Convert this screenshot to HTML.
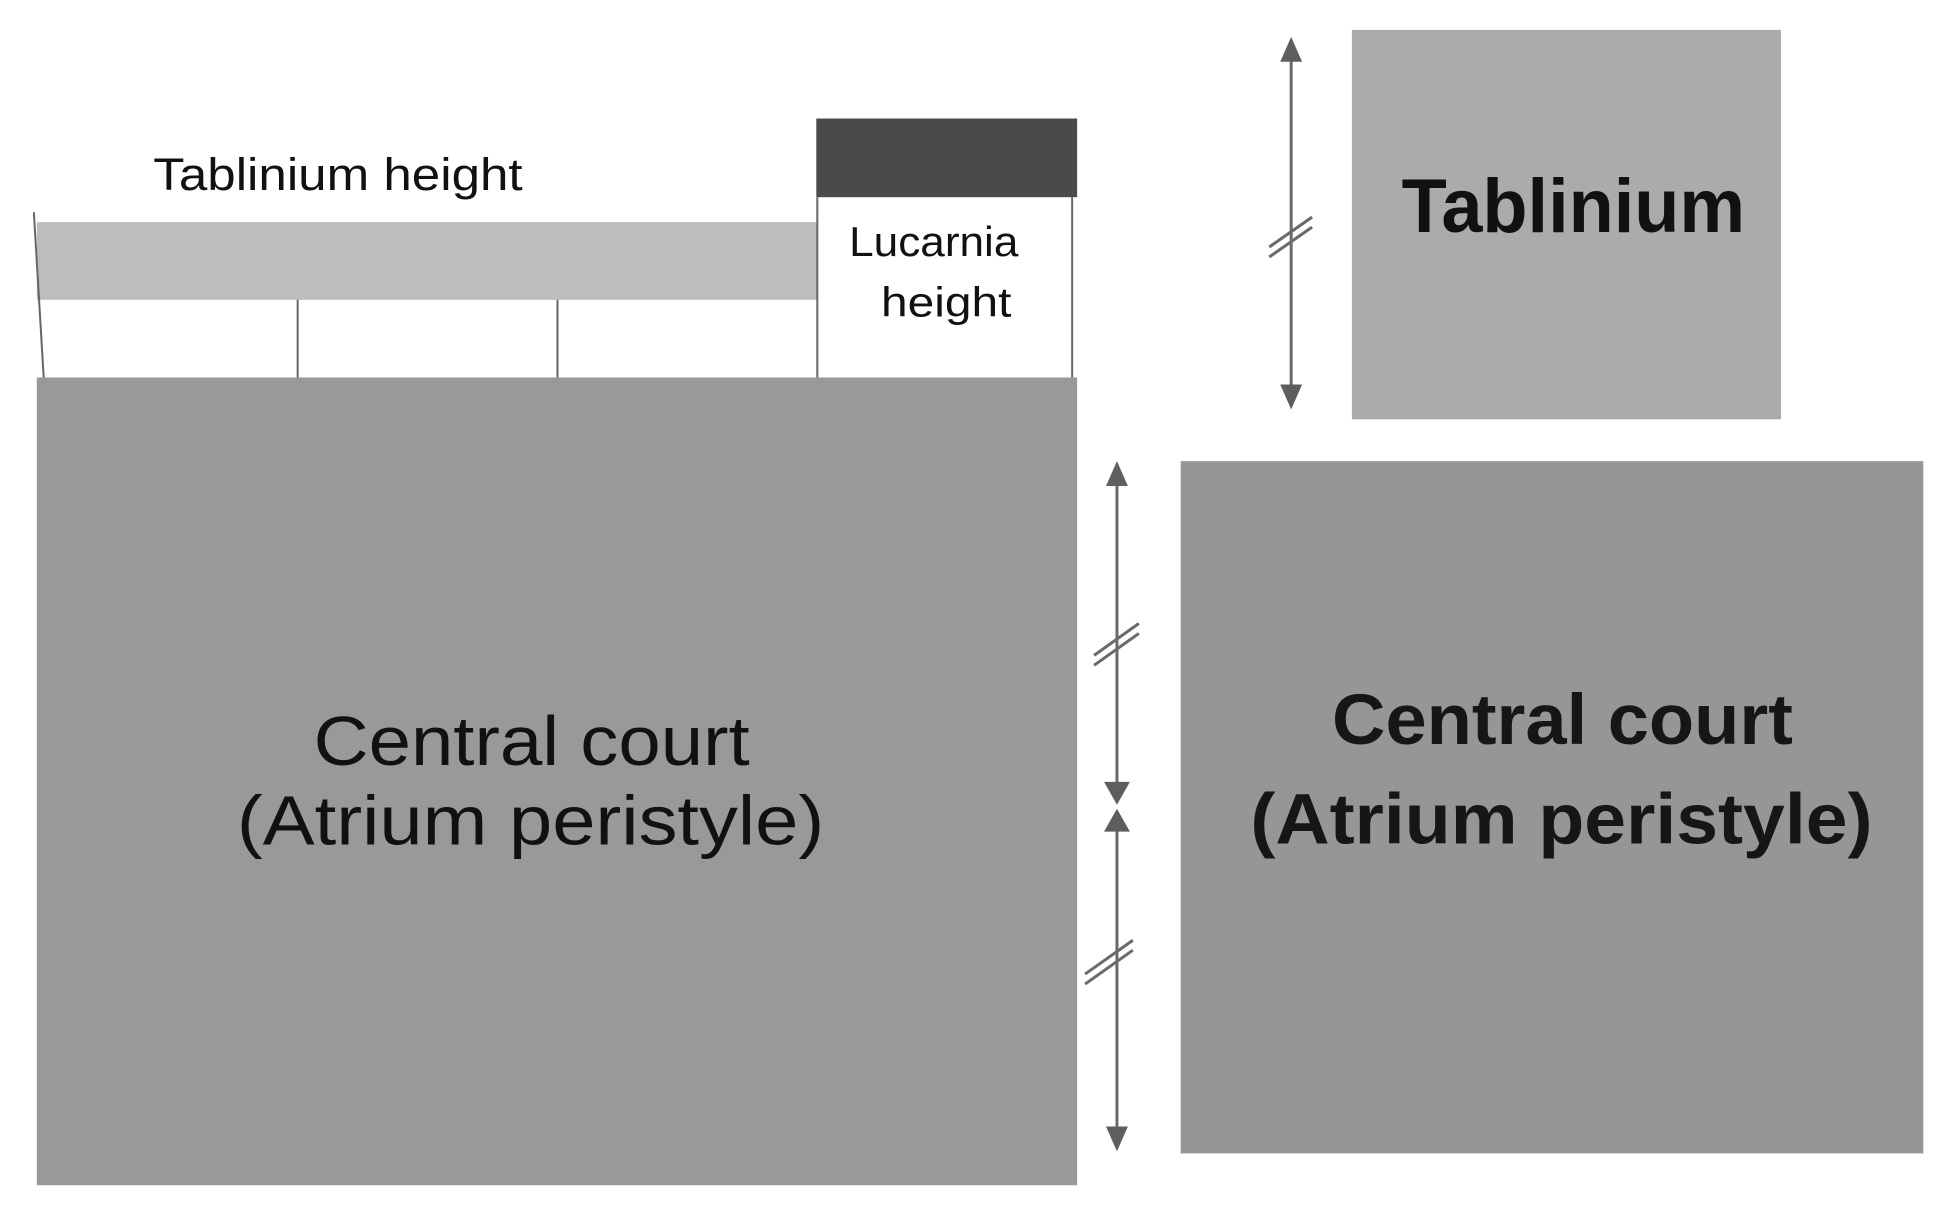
<!DOCTYPE html>
<html><head><meta charset="utf-8"><style>html,body{margin:0;padding:0;background:#fff}svg{display:block}</style></head>
<body>
<svg width="1943" height="1216" viewBox="0 0 1943 1216" xmlns="http://www.w3.org/2000/svg" font-family="Liberation Sans, sans-serif">
<g transform="scale(0.9955,0.996)">
<rect x="820" y="119" width="262" height="79" fill="#4a4a4a"/>
<rect x="37" y="223" width="784" height="78" fill="#bdbdbd"/>
<g stroke="#666" stroke-width="2">
<line x1="34" y1="213" x2="44" y2="381"/>
<line x1="299" y1="301" x2="299" y2="381"/>
<line x1="560" y1="301" x2="560" y2="381"/>
<line x1="821" y1="198" x2="821" y2="381"/>
<line x1="1077" y1="198" x2="1077" y2="381"/>
</g>
<rect x="37" y="379" width="1045" height="811" fill="#999999"/>
<text x="154" y="191" font-size="46" textLength="371" lengthAdjust="spacingAndGlyphs" fill="#111">Tablinium height</text>
<text x="853" y="257" font-size="42" textLength="170" lengthAdjust="spacingAndGlyphs" fill="#111">Lucarnia</text>
<text x="885" y="318" font-size="42" textLength="131" lengthAdjust="spacingAndGlyphs" fill="#111">height</text>
<text x="315" y="768" font-size="70" textLength="438" lengthAdjust="spacingAndGlyphs" fill="#111">Central court</text>
<text x="238" y="848" font-size="70" textLength="590" lengthAdjust="spacingAndGlyphs" fill="#111">(Atrium peristyle)</text>
<rect x="1358" y="30" width="431" height="391" fill="#ababab"/>
<text x="1408" y="233" font-size="76" font-weight="bold" textLength="345" lengthAdjust="spacingAndGlyphs" fill="#111">Tablinium</text>
<rect x="1186" y="463" width="746" height="695" fill="#969696"/>
<text x="1338" y="747" font-size="72" font-weight="bold" textLength="463" lengthAdjust="spacingAndGlyphs" fill="#161616">Central court</text>
<text x="1256" y="847" font-size="72" font-weight="bold" textLength="625" lengthAdjust="spacingAndGlyphs" fill="#161616">(Atrium peristyle)</text>
<g stroke="#6a6a6a" stroke-width="3" fill="none">
<line x1="1297" y1="50" x2="1297" y2="398"/>
<line x1="1122" y1="478" x2="1122" y2="800"/>
<line x1="1122" y1="820" x2="1122" y2="1142"/>
<line x1="1275" y1="248" x2="1318" y2="218"/>
<line x1="1275" y1="258" x2="1318" y2="228"/>
<line x1="1099" y1="658" x2="1144" y2="626"/>
<line x1="1099" y1="668" x2="1144" y2="636"/>
<line x1="1090" y1="978" x2="1138" y2="944"/>
<line x1="1090" y1="988" x2="1138" y2="954"/>
</g>
<g fill="#5e5e5e">
<polygon points="1297,37 1286,62 1308,62"/>
<polygon points="1297,411 1286,386 1308,386"/>
<polygon points="1122,463 1111,488 1133,488"/>
<polygon points="1122,808 1109,785 1135,785"/>
<polygon points="1122,812 1109,835 1135,835"/>
<polygon points="1122,1156 1111,1131 1133,1131"/>
</g>
</g>
</svg>
</body></html>
